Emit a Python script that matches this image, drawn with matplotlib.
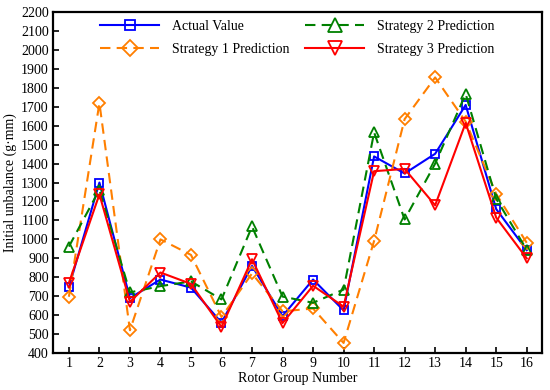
import matplotlib.pyplot as plt

plt.rcParams['font.family'] = ['Liberation Serif', 'DejaVu Serif']

groups = list(range(1, 17))
actual = [747, 1300, 690, 788, 745, 560, 860, 595, 788, 625, 1438, 1348, 1452, 1710, 1160, 943]
strategy1 = [697, 1720, 520, 1000, 918, 590, 820, 620, 635, 453, 992, 1635, 1855, 1622, 1240, 982]
strategy2 = [962, 1262, 720, 753, 778, 683, 1068, 698, 665, 735, 1565, 1105, 1400, 1768, 1215, 945]
strategy3 = [770, 1238, 670, 825, 765, 537, 895, 558, 755, 645, 1360, 1372, 1180, 1615, 1115, 900]

fig = plt.figure(figsize=(5.5, 3.9), dpi=100)
ax = fig.add_axes([0.0964, 0.0949, 0.889, 0.874])

ax.plot(groups, actual, color='#0000FF', ls='-', lw=1.5, marker='s', ms=5.5,
        mfc='none', mew=1.3, label='Actual Value')
ax.plot(groups, strategy1, color='#FF7F00', ls=(0, (5, 3)), lw=1.5, marker='D', ms=6,
        mfc='none', mew=1.3, label='Strategy 1 Prediction')
ax.plot(groups, strategy2, color='#008000', ls=(0, (5, 3)), lw=1.5, marker='^', ms=7.5,
        mfc='none', mew=1.3, label='Strategy 2 Prediction')
ax.plot(groups, strategy3, color='#FF0000', ls='-', lw=1.5, marker='v', ms=7.5,
        mfc='none', mew=1.3, label='Strategy 3 Prediction')

ax.set_xlim(0.48, 16.5)
ax.set_ylim(400, 2200)
ax.set_xticks(groups)
ax.set_yticks(range(400, 2201, 100))
ax.tick_params(direction='in', labelsize=10, length=4, width=1.2, pad=3)
for s in ax.spines.values():
    s.set_linewidth(1.6)

ax.set_xlabel('Rotor Group Number', fontsize=10, labelpad=1)
ax.set_ylabel('Initial unbalance (g·mm)', fontsize=10, labelpad=3)

ax.legend(loc='upper left', ncol=2, frameon=False, fontsize=10,
          handlelength=4.3, handletextpad=0.9, columnspacing=1.1,
          labelspacing=0.75, markerscale=1.3, bbox_to_anchor=(0.07, 1.015))

fig.savefig('out.png', dpi=100)
